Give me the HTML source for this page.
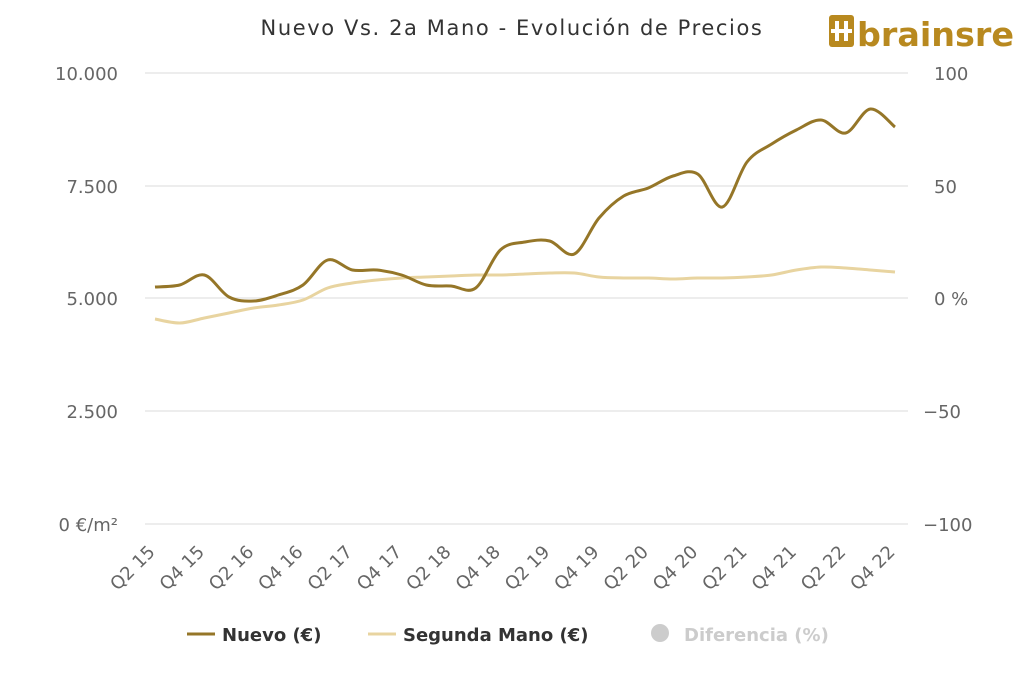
<!DOCTYPE html>
<html><head><meta charset="utf-8"><style>
body{margin:0;background:#fff;}
svg{display:block;font-family:"DejaVu Sans","Liberation Sans",sans-serif;}
</style></head><body>
<svg id="s" width="1024" height="683" viewBox="0 0 1024 683">
<text x="512" y="35" text-anchor="middle" font-size="21" fill="#333" letter-spacing="1.6">Nuevo Vs. 2a Mano - Evolución de Precios</text>
<g>
<rect x="829" y="15" width="25" height="32" rx="3" fill="#b8891f"/>
<rect x="835" y="21" width="4" height="20" fill="#fff"/><rect x="844" y="21" width="4" height="20" fill="#fff"/>
<rect x="831" y="29" width="21" height="4" fill="#fff"/>
<text x="857" y="46" font-size="33" font-weight="bold" fill="#b8891f" textLength="157" lengthAdjust="spacingAndGlyphs">brainsre</text>
</g>
<g stroke="#e2e2e2" stroke-width="1.3">
<line x1="145" y1="73" x2="908" y2="73"/><line x1="145" y1="186" x2="908" y2="186"/>
<line x1="145" y1="298" x2="908" y2="298"/><line x1="145" y1="411" x2="908" y2="411"/>
<line x1="145" y1="524" x2="908" y2="524"/>
</g>
<g font-size="18" fill="#666" text-anchor="end">
<text x="118" y="80">10.000</text><text x="118" y="193">7.500</text><text x="118" y="305">5.000</text>
<text x="118" y="418">2.500</text><text x="118" y="531">0 €/m²</text>
</g>
<g font-size="18" fill="#666" text-anchor="start">
<text x="934" y="80">100</text><text x="934" y="193">50</text><text x="934" y="305">0 %</text>
<text x="923" y="418">−50</text><text x="923" y="531">−100</text>
</g>
<g id="xl" font-size="18" fill="#666" text-anchor="end"></g>
<path id="p2" fill="none" stroke="#e8d4a0" stroke-width="3"/>
<path id="p1" fill="none" stroke="#957628" stroke-width="3"/>
<g font-size="18" font-weight="bold">
<line x1="187" y1="634" x2="215" y2="634" stroke="#957628" stroke-width="3"/>
<text x="222" y="641" fill="#333">Nuevo (€)</text>
<line x1="368" y1="634" x2="396" y2="634" stroke="#e8d4a0" stroke-width="3"/>
<text x="403" y="641" fill="#333">Segunda Mano (€)</text>
<circle cx="660" cy="633" r="9" fill="#ccc"/>
<text x="684" y="641" fill="#ccc">Diferencia (%)</text>
</g>
</svg>
<script>
var xs=[];for(var i=0;i<31;i++)xs.push(155+i*740/30);
var n=[287,285,275,297,301,295,285,260,270,270,275,285,286,288,250,242,241,254,218,196,188,176,174,207,162,144,130,120,133,109,127];
var s=[319,323,318,313,308,305,300,288,283,280,278,277,276,275,275,274,273,273,277,278,278,279,278,278,277,275,270,267,268,270,272];
function path(ys){var p="M"+xs[0]+","+ys[0];for(var i=0;i<ys.length-1;i++){var x0=xs[Math.max(i-1,0)],y0=ys[Math.max(i-1,0)],x1=xs[i],y1=ys[i],x2=xs[i+1],y2=ys[i+1],x3=xs[Math.min(i+2,ys.length-1)],y3=ys[Math.min(i+2,ys.length-1)];
p+=" C"+(x1+(x2-x0)/6)+","+(y1+(y2-y0)/6)+" "+(x2-(x3-x1)/6)+","+(y2-(y3-y1)/6)+" "+x2+","+y2;}return p;}
document.getElementById("p1").setAttribute("d",path(n));
document.getElementById("p2").setAttribute("d",path(s));
var g=document.getElementById("xl"),h="";
for(var i=0;i<31;i+=2){var q=(i%4==0)?"Q2 ":"Q4 ";var yr=15+Math.floor(i/4);var x=xs[i]+1;
h+='<text transform="translate('+x+',553) rotate(-45)">'+q+yr+'</text>';}
g.innerHTML=h;
</script>
</body></html>
